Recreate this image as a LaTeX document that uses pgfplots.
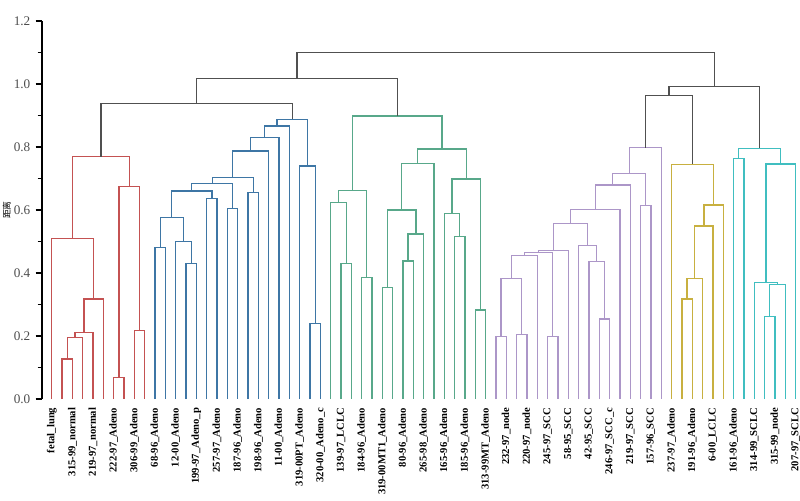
\documentclass[border=0pt]{standalone}
\usepackage{pgfplots}
\pgfplotsset{compat=1.18}
\usepackage{fontspec}
\setmainfont{Liberation Serif}
\newfontfamily\cjk{Noto Sans CJK SC}
\definecolor{cR}{RGB}{196,82,82}
\definecolor{cB}{RGB}{62,118,165}
\definecolor{cG}{RGB}{88,168,138}
\definecolor{cP}{RGB}{172,150,200}
\definecolor{cY}{RGB}{200,176,64}
\definecolor{cC}{RGB}{64,190,192}
\definecolor{cK}{RGB}{80,80,80}
\begin{document}
\begin{tikzpicture}
\begin{axis}[
  at={(0,0)}, anchor=south west,
  scale only axis, width=379.15pt, height=189pt,
  xmin=-0.97, xmax=72.43, ymin=0, ymax=1.2,
  clip=false,
  axis y line=left, axis x line=bottom,
  axis line style={-, line width=0.9pt},
  x axis line style={draw=none},
  xtick={0,2,...,72},
  xtick style={draw=none},
  xticklabels={fetal\_lung,315-99\_normal,219-97\_normal,222-97\_Adeno,306-99\_Adeno,68-96\_Adeno,12-00\_Adeno,199-97\_Adeno\_p,257-97\_Adeno,187-96\_Adeno,198-96\_Adeno,11-00\_Adeno,319-00PT\_Adeno,320-00\_Adeno\_c,139-97\_LCLC,184-96\_Adeno,319-00MT1\_Adeno,80-96\_Adeno,265-98\_Adeno,165-96\_Adeno,185-96\_Adeno,313-99MT\_Adeno,232-97\_node,220-97\_node,245-97\_SCC,58-95\_SCC,42-95\_SCC,246-97\_SCC\_c,219-97\_SCC,157-96\_SCC,237-97\_Adeno,191-96\_Adeno,6-00\_LCLC,161-96\_Adeno,314-99\_SCLC,315-99\_node,207-97\_SCLC},
  xticklabel style={rotate=90, anchor=east, font=\fontsize{5.3}{6}\selectfont\bfseries, inner sep=1.2pt},
  ytick={0,0.2,...,1.2},
  minor y tick num=1,
  tick align=outside,
  major tick length=3pt, minor tick length=2pt,
  ytick style={line width=0.7pt, black},
  yticklabel style={font=\fontsize{6.6}{7}\selectfont, color=black!70, inner sep=2.5pt},
  /pgf/number format/assume math mode=true,
  /pgf/number format/fixed, /pgf/number format/fixed zerofill, /pgf/number format/precision=1,
  ylabel={\cjk 距离},
  ylabel style={at={(axis description cs:-0.046,0.5)}, anchor=center, font=\fontsize{4.4}{5}\selectfont},
  every axis plot/.append style={line width=0.65pt, mark=none},
]
% red cluster
\addplot[cR] coordinates {(1,0)(1,0.127)(2,0.127)(2,0)};
\addplot[cR] coordinates {(1.5,0.127)(1.5,0.195)(3,0.195)(3,0)};
\addplot[cR] coordinates {(2.25,0.195)(2.25,0.212)(4,0.212)(4,0)};
\addplot[cR] coordinates {(3.125,0.212)(3.125,0.317)(5,0.317)(5,0)};
\addplot[cR] coordinates {(0,0)(0,0.510)(4.0625,0.510)(4.0625,0.317)};
\addplot[cR] coordinates {(6,0)(6,0.068)(7,0.068)(7,0)};
\addplot[cR] coordinates {(8,0)(8,0.217)(9,0.217)(9,0)};
\addplot[cR] coordinates {(6.5,0.068)(6.5,0.674)(8.5,0.674)(8.5,0.217)};
\addplot[cR] coordinates {(2.03125,0.510)(2.03125,0.769)(7.5,0.769)(7.5,0.674)};
% blue cluster
\addplot[cB] coordinates {(10,0)(10,0.480)(11,0.480)(11,0)};
\addplot[cB] coordinates {(13,0)(13,0.431)(14,0.431)(14,0)};
\addplot[cB] coordinates {(12,0)(12,0.499)(13.5,0.499)(13.5,0.431)};
\addplot[cB] coordinates {(10.5,0.480)(10.5,0.577)(12.75,0.577)(12.75,0.499)};
\addplot[cB] coordinates {(15,0)(15,0.637)(16,0.637)(16,0)};
\addplot[cB] coordinates {(11.625,0.577)(11.625,0.660)(15.5,0.660)(15.5,0.637)};
\addplot[cB] coordinates {(17,0)(17,0.605)(18,0.605)(18,0)};
\addplot[cB] coordinates {(13.5625,0.660)(13.5625,0.685)(17.5,0.685)(17.5,0.605)};
\addplot[cB] coordinates {(19,0)(19,0.656)(20,0.656)(20,0)};
\addplot[cB] coordinates {(15.531,0.685)(15.531,0.704)(19.5,0.704)(19.5,0.656)};
\addplot[cB] coordinates {(17.516,0.704)(17.516,0.787)(21,0.787)(21,0)};
\addplot[cB] coordinates {(19.258,0.787)(19.258,0.830)(22,0.830)(22,0)};
\addplot[cB] coordinates {(20.629,0.830)(20.629,0.867)(23,0.867)(23,0)};
\addplot[cB] coordinates {(25,0)(25,0.240)(26,0.240)(26,0)};
\addplot[cB] coordinates {(24,0)(24,0.740)(25.5,0.740)(25.5,0.240)};
\addplot[cB] coordinates {(21.815,0.867)(21.815,0.888)(24.75,0.888)(24.75,0.740)};
% green cluster
\addplot[cG] coordinates {(28,0)(28,0.431)(29,0.431)(29,0)};
\addplot[cG] coordinates {(27,0)(27,0.624)(28.5,0.624)(28.5,0.431)};
\addplot[cG] coordinates {(30,0)(30,0.385)(31,0.385)(31,0)};
\addplot[cG] coordinates {(27.75,0.624)(27.75,0.661)(30.5,0.661)(30.5,0.385)};
\addplot[cG] coordinates {(32,0)(32,0.355)(33,0.355)(33,0)};
\addplot[cG] coordinates {(34,0)(34,0.438)(35,0.438)(35,0)};
\addplot[cG] coordinates {(34.5,0.438)(34.5,0.524)(36,0.524)(36,0)};
\addplot[cG] coordinates {(32.5,0.355)(32.5,0.600)(35.25,0.600)(35.25,0.524)};
\addplot[cG] coordinates {(33.875,0.600)(33.875,0.748)(37,0.748)(37,0)};
\addplot[cG] coordinates {(39,0)(39,0.515)(40,0.515)(40,0)};
\addplot[cG] coordinates {(38,0)(38,0.589)(39.5,0.589)(39.5,0.515)};
\addplot[cG] coordinates {(41,0)(41,0.283)(42,0.283)(42,0)};
\addplot[cG] coordinates {(38.75,0.589)(38.75,0.698)(41.5,0.698)(41.5,0.283)};
\addplot[cG] coordinates {(35.4375,0.748)(35.4375,0.794)(40.125,0.794)(40.125,0.698)};
\addplot[cG] coordinates {(29.125,0.661)(29.125,0.898)(37.78,0.898)(37.78,0.794)};
% purple cluster
\addplot[cP] coordinates {(43,0)(43,0.198)(44,0.198)(44,0)};
\addplot[cP] coordinates {(45,0)(45,0.204)(46,0.204)(46,0)};
\addplot[cP] coordinates {(43.5,0.198)(43.5,0.383)(45.5,0.383)(45.5,0.204)};
\addplot[cP] coordinates {(44.5,0.383)(44.5,0.455)(47,0.455)(47,0)};
\addplot[cP] coordinates {(48,0)(48,0.198)(49,0.198)(49,0)};
\addplot[cP] coordinates {(45.75,0.455)(45.75,0.465)(48.5,0.465)(48.5,0.198)};
\addplot[cP] coordinates {(47.125,0.465)(47.125,0.471)(50,0.471)(50,0)};
\addplot[cP] coordinates {(53,0)(53,0.254)(54,0.254)(54,0)};
\addplot[cP] coordinates {(52,0)(52,0.436)(53.5,0.436)(53.5,0.254)};
\addplot[cP] coordinates {(51,0)(51,0.487)(52.75,0.487)(52.75,0.436)};
\addplot[cP] coordinates {(48.5625,0.471)(48.5625,0.558)(51.875,0.558)(51.875,0.487)};
\addplot[cP] coordinates {(50.22,0.558)(50.22,0.602)(55,0.602)(55,0)};
\addplot[cP] coordinates {(52.61,0.602)(52.61,0.679)(56,0.679)(56,0)};
\addplot[cP] coordinates {(57,0)(57,0.614)(58,0.614)(58,0)};
\addplot[cP] coordinates {(54.305,0.679)(54.305,0.716)(57.5,0.716)(57.5,0.614)};
\addplot[cP] coordinates {(55.90,0.716)(55.90,0.798)(59,0.798)(59,0)};
% yellow cluster
\addplot[cY] coordinates {(61,0)(61,0.317)(62,0.317)(62,0)};
\addplot[cY] coordinates {(61.5,0.317)(61.5,0.383)(63,0.383)(63,0)};
\addplot[cY] coordinates {(62.25,0.383)(62.25,0.549)(64,0.549)(64,0)};
\addplot[cY] coordinates {(63.125,0.549)(63.125,0.616)(65,0.616)(65,0)};
\addplot[cY] coordinates {(60,0)(60,0.745)(64.0625,0.745)(64.0625,0.616)};
% cyan cluster
\addplot[cC] coordinates {(66,0)(66,0.764)(67,0.764)(67,0)};
\addplot[cC] coordinates {(69,0)(69,0.261)(70,0.261)(70,0)};
\addplot[cC] coordinates {(69.5,0.261)(69.5,0.364)(71,0.364)(71,0)};
\addplot[cC] coordinates {(68,0)(68,0.369)(70.25,0.369)(70.25,0.364)};
\addplot[cC] coordinates {(69.125,0.369)(69.125,0.746)(72,0.746)(72,0)};
\addplot[cC] coordinates {(66.5,0.764)(66.5,0.796)(70.5625,0.796)(70.5625,0.746)};
% upper links
\addplot[cK] coordinates {(4.766,0.769)(4.766,0.937)(23.28,0.937)(23.28,0.888)};
\addplot[cK] coordinates {(14.02,0.937)(14.02,1.018)(33.45,1.018)(33.45,0.898)};
\addplot[cK] coordinates {(57.45,0.798)(57.45,0.963)(62.03,0.963)(62.03,0.745)};
\addplot[cK] coordinates {(59.74,0.963)(59.74,0.991)(68.53,0.991)(68.53,0.796)};
\addplot[cK] coordinates {(23.735,1.018)(23.735,1.100)(64.135,1.100)(64.135,0.991)};
\end{axis}
\pgfresetboundingbox
\path[use as bounding box] (-20.85pt,-50.5pt) rectangle (379.15pt,199.5pt);
\end{tikzpicture}
\end{document}
